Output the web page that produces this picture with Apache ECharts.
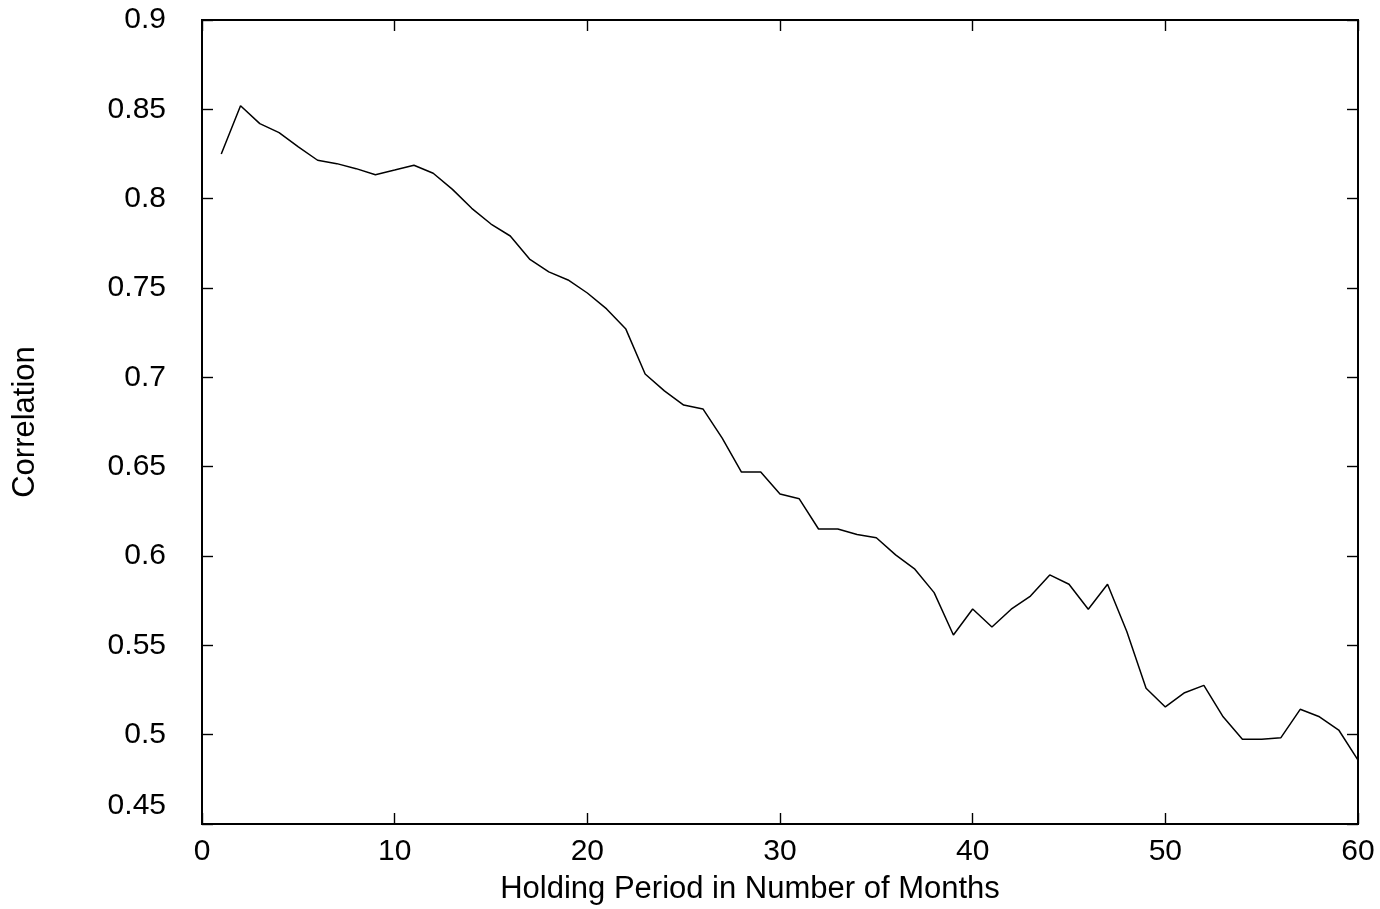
<!DOCTYPE html>
<html><head><meta charset="utf-8">
<script src="https://cdn.jsdelivr.net/npm/echarts@6/dist/echarts.min.js"></script>
<style>html,body{margin:0;padding:0;background:#fff}#c{width:1380px;height:909px}</style>
</head><body><div id="c"></div>
<script>
const months = [];
for (let i = 1; i <= 60; i++) months.push(i);
const correlation = [
  0.825, 0.852, 0.842, 0.837, 0.829, 0.8215, 0.8196, 0.8168, 0.8134, 0.816,
  0.8187, 0.8142, 0.8052, 0.7946, 0.7858, 0.7791, 0.7662, 0.759, 0.7545, 0.7472,
  0.7383, 0.727, 0.7019, 0.6924, 0.6845, 0.6823, 0.666, 0.647, 0.647, 0.6347,
  0.632, 0.6151, 0.6151, 0.612, 0.6102, 0.6006, 0.5926, 0.5795, 0.5558, 0.5703,
  0.5603, 0.5702, 0.5776, 0.5894, 0.5842, 0.5702, 0.5842, 0.5577, 0.526, 0.5155,
  0.5235, 0.5276, 0.51, 0.4974, 0.4974, 0.4983, 0.5142, 0.51, 0.5026, 0.4858
];
const xTitle = 'Holding Period in Number of Months';
const yTitle = 'Correlation';
const xMin = 0, xMax = 60, xStep = 10;
const yMin = 0.45, yMax = 0.9, yStep = 0.05;

const font = 'Liberation Sans, Arial, sans-serif';
const chart = echarts.init(document.getElementById('c'), null, {renderer: 'canvas'});
const tick = {show: true, inside: true, length: 11, lineStyle: {color: '#000', width: 1.4}};
const line = {show: true, onZero: false, lineStyle: {color: '#000', width: 2}};
const fmtY = v => {
  const s = String(Math.round(v * 100) / 100);
  return Math.abs(v - yMin) < 1e-9 ? '{low|' + s + '}' : s;
};
chart.setOption({
  animation: false,
  backgroundColor: '#fff',
  grid: {left: 202, right: 22, top: 20, bottom: 85, containLabel: false, outerBoundsMode: 'none',
         show: true, borderColor: '#000', borderWidth: 2},
  xAxis: [
    {type: 'value', position: 'bottom', min: xMin, max: xMax, interval: xStep,
     axisLine: line, axisTick: tick, splitLine: {show: false},
     axisLabel: {color: '#000', fontSize: 30, fontFamily: font, margin: 13},
     name: xTitle, nameLocation: 'middle', nameGap: 50,
     nameTextStyle: {color: '#000', fontSize: 31, fontFamily: font, padding: [0, 60, 0, 0]}},
    {type: 'value', position: 'top', min: xMin, max: xMax, interval: xStep,
     axisLine: line, axisTick: tick, splitLine: {show: false},
     axisLabel: {show: false}}
  ],
  yAxis: [
    {type: 'value', position: 'left', min: yMin, max: yMax, interval: yStep,
     axisLine: line, axisTick: tick, splitLine: {show: false},
     axisLabel: {color: '#000', fontSize: 30, fontFamily: font, margin: 36, formatter: fmtY,
       rich: {low: {fontSize: 30, fontFamily: font, color: '#000', padding: [0, 0, 36, 0]}}},
     name: yTitle, nameLocation: 'middle', nameGap: 161, nameRotate: 90,
     nameTextStyle: {color: '#000', fontSize: 31, fontFamily: font}},
    {type: 'value', position: 'right', min: yMin, max: yMax, interval: yStep,
     axisLine: line, axisTick: tick, splitLine: {show: false},
     axisLabel: {show: false}}
  ],
  series: [{
    type: 'line', xAxisIndex: 0, yAxisIndex: 0,
    data: months.map((m, i) => [m, correlation[i]]),
    showSymbol: false, symbol: 'none',
    lineStyle: {color: '#000', width: 1.5}
  }]
});
</script></body></html>
